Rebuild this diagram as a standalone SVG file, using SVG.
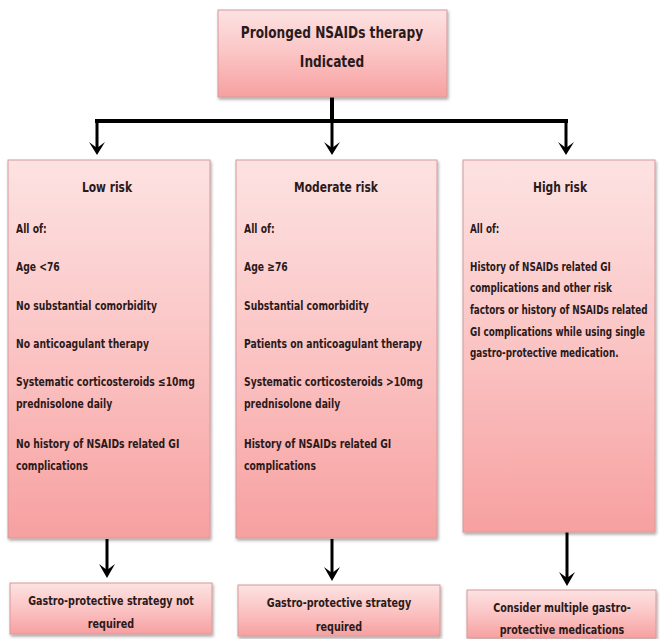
<svg xmlns="http://www.w3.org/2000/svg" width="660" height="639" viewBox="0 0 660 639">
  <defs>
    <linearGradient id="pink" x1="0" y1="0" x2="0" y2="1">
      <stop offset="0" stop-color="#fde2e2"/>
      <stop offset="0.5" stop-color="#fbc4c4"/>
      <stop offset="1" stop-color="#f7a0a0"/>
    </linearGradient>
    <filter id="shadow" x="-5%" y="-5%" width="112%" height="115%">
      <feDropShadow dx="1" dy="2" stdDeviation="1.5" flood-color="#000" flood-opacity="0.35"/>
    </filter>
  </defs>
  <style>
    .box { fill: url(#pink); stroke: #d49a9a; stroke-width: 1; filter: url(#shadow); }
    .t { font-family: "DejaVu Sans Condensed", "Liberation Sans", sans-serif; font-weight: bold; font-size: 12.5px; fill: #2a1a1a; }
    .h { font-size: 14.5px; text-anchor: middle; }
    .c { font-size: 13px; text-anchor: middle; }
    .top { font-size: 16.5px; text-anchor: middle; }
    .line { stroke: #000; stroke-width: 4; fill: none; }
    .arr { stroke: #000; stroke-width: 3; fill: none; }
  </style>

  <g id="connectors">
    <path class="line" d="M332,97 V121 M95,121 H568"/>
    <path class="arr" d="M97,119 V150 M332,121 V150 M566,119 V150"/>
    <path d="M89,142 L97,155 L105,142 L97,148 Z M324,142 L332,155 L340,142 L332,148 Z M558,142 L566,155 L574,142 L566,148 Z" fill="#000"/>
    <path class="arr" d="M107,539 V572 M332,539 V575 M567,532 V580"/>
    <path d="M99,564 L107,578 L115,564 L107,570 Z M324,567 L332,581 L340,567 L332,573 Z M559,572 L567,586 L575,572 L567,578 Z" fill="#000"/>
  </g>

  <g id="top-node">
    <rect class="box" x="218" y="10" width="229" height="87"/>
    <g transform="translate(332,0) scale(0.82,1)">
      <text class="t top" x="0" y="38">Prolonged NSAIDs therapy</text>
      <text class="t top" x="0" y="67">Indicated</text>
    </g>
  </g>

  <g id="low-risk">
    <rect class="box" x="8" y="160" width="202" height="378"/>
    <g transform="translate(107,0) scale(0.82,1)">
      <text class="t h" x="0" y="192">Low risk</text>
    </g>
    <g transform="translate(16,0) scale(0.82,1)">
      <text class="t" x="0" y="233">All of:</text>
      <text class="t" x="0" y="271">Age &lt;76</text>
      <text class="t" x="0" y="310">No substantial comorbidity</text>
      <text class="t" x="0" y="348">No anticoagulant therapy</text>
      <text class="t" x="0" y="386">Systematic corticosteroids ≤10mg</text>
      <text class="t" x="0" y="408">prednisolone daily</text>
      <text class="t" x="0" y="448">No history of NSAIDs related GI</text>
      <text class="t" x="0" y="470">complications</text>
    </g>
  </g>

  <g id="moderate-risk">
    <rect class="box" x="236" y="160" width="201" height="378"/>
    <g transform="translate(336,0) scale(0.82,1)">
      <text class="t h" x="0" y="192">Moderate risk</text>
    </g>
    <g transform="translate(244,0) scale(0.82,1)">
      <text class="t" x="0" y="233">All of:</text>
      <text class="t" x="0" y="271">Age ≥76</text>
      <text class="t" x="0" y="310">Substantial comorbidity</text>
      <text class="t" x="0" y="348">Patients on anticoagulant therapy</text>
      <text class="t" x="0" y="386">Systematic corticosteroids &gt;10mg</text>
      <text class="t" x="0" y="408">prednisolone daily</text>
      <text class="t" x="0" y="448">History of NSAIDs related GI</text>
      <text class="t" x="0" y="470">complications</text>
    </g>
  </g>

  <g id="high-risk">
    <rect class="box" x="463" y="160" width="192" height="372"/>
    <g transform="translate(560,0) scale(0.82,1)">
      <text class="t h" x="0" y="192">High risk</text>
    </g>
    <g transform="translate(470,0) scale(0.785,1)">
      <text class="t" x="0" y="233">All of:</text>
      <text class="t" x="0" y="271">History of NSAIDs related GI</text>
      <text class="t" x="0" y="292">complications and other risk</text>
      <text class="t" x="0" y="314">factors or history of NSAIDs related</text>
      <text class="t" x="0" y="336">GI complications while using single</text>
      <text class="t" x="0" y="357">gastro-protective medication.</text>
    </g>
  </g>

  <g id="low-outcome">
    <rect class="box" x="10" y="583" width="202" height="51"/>
    <g transform="translate(111,0) scale(0.82,1)">
      <text class="t c" x="0" y="605">Gastro-protective strategy not</text>
      <text class="t c" x="0" y="628">required</text>
    </g>
  </g>

  <g id="moderate-outcome">
    <rect class="box" x="238" y="585" width="202" height="51"/>
    <g transform="translate(339,0) scale(0.82,1)">
      <text class="t c" x="0" y="607">Gastro-protective strategy</text>
      <text class="t c" x="0" y="631">required</text>
    </g>
  </g>

  <g id="high-outcome">
    <rect class="box" x="467" y="590" width="189" height="48"/>
    <g transform="translate(562,0) scale(0.82,1)">
      <text class="t c" x="0" y="612">Consider multiple gastro-</text>
      <text class="t c" x="0" y="634">protective medications</text>
    </g>
  </g>
</svg>
